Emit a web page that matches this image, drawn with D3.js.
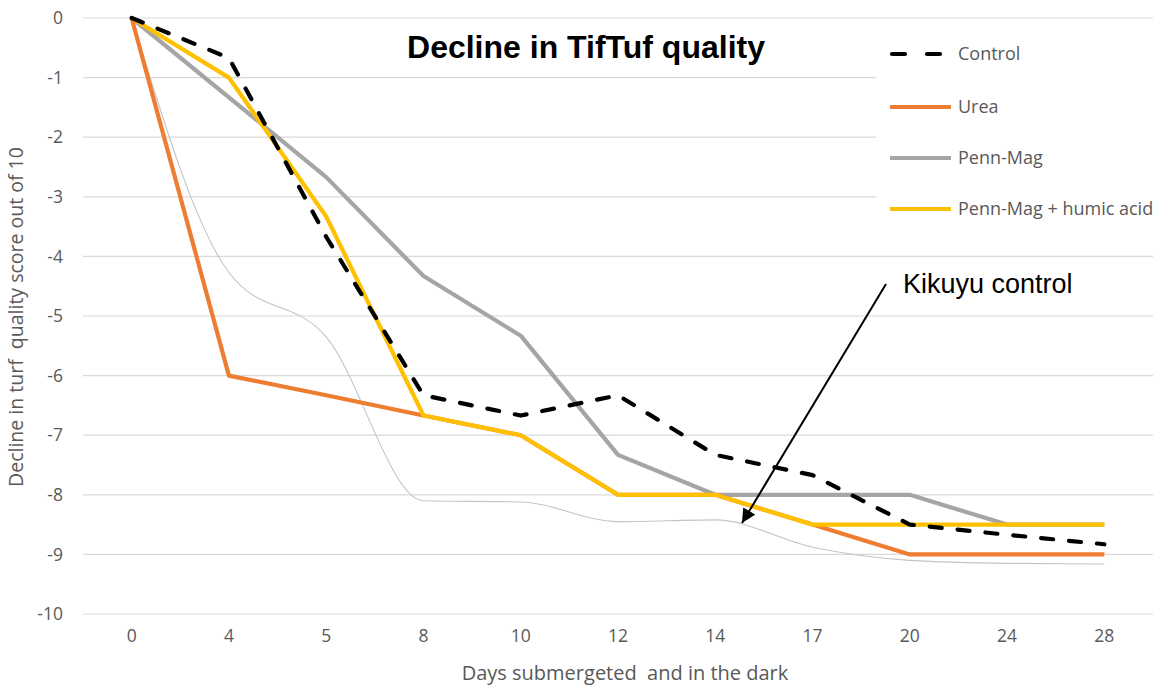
<!DOCTYPE html>
<html>
<head>
<meta charset="utf-8">
<script src="https://cdn.jsdelivr.net/npm/d3@7"></script>
<style>
  html, body { margin: 0; padding: 0; background: #fff; }
  svg { display: block; }
</style>
</head>
<body>
<svg id="chart" width="1163" height="689"></svg>
<script>
// ---- data ----
const days = ["0", "4", "5", "8", "10", "12", "14", "17", "20", "24", "28"];
const control = [0, -0.67, -3.67, -6.33, -6.67, -6.33, -7.33, -7.67, -8.5, -8.67, -8.83];
const urea = [0, -6, -6.33, -6.67, -7, -8, -8, -8.5, -9, -9, -9];
const pennMag = [0, -1.33, -2.67, -4.33, -5.33, -7.33, -8, -8, -8, -8.5, -8.5];
const pennMagHumic = [0, -1, -3.33, -6.67, -7, -8, -8, -8.5, -8.5, -8.5, -8.5];
const kikuyuControl = [0, -4.27, -5.35, -8.1, -8.12, -8.45, -8.42, -8.88, -9.1, -9.15, -9.16];
const yTicks = [0, -1, -2, -3, -4, -5, -6, -7, -8, -9, -10];
const seriesNames = ["Control", "Urea", "Penn-Mag", "Penn-Mag + humic acid"];
const titleText = "Decline in TifTuf quality";
const xTitle = "Days submergeted  and in the dark";
const yTitle = "Decline in turf  quality score out of 10";
const annotationText = "Kikuyu control";

// ---- layout ----
const svg = d3.select("#chart");
const plot = { left: 83, right: 1153, top: 18, bottom: 614 };
const x = d3.scaleBand().domain(days).range([plot.left, plot.right]);
const y = d3.scaleLinear().domain([-10, 0]).range([plot.bottom, plot.top]);
const cx = d => x(d) + x.bandwidth() / 2;
const labelFont = "'Open Sans', 'Noto Sans', sans-serif";
const labelColor = "#595959";

// gridlines
svg.append("g").selectAll("line").data(yTicks).join("line")
  .attr("x1", plot.left).attr("x2", plot.right)
  .attr("y1", d => y(d)).attr("y2", d => y(d))
  .attr("stroke", "#d9d9d9").attr("stroke-width", 1.2);

// y axis labels
const yAxis = d3.axisLeft(y).tickValues(yTicks).tickFormat(d => String(d)).tickSize(0).tickPadding(0);
const yg = svg.append("g").attr("transform", `translate(${plot.left - 20},0)`).call(yAxis);
yg.select(".domain").remove();
yg.selectAll("text").attr("font-family", labelFont).attr("font-size", 17.5)
  .attr("fill", labelColor);

// x axis labels
const xAxis = d3.axisBottom(x).tickSize(0).tickPadding(0);
const xg = svg.append("g").attr("transform", `translate(0,${plot.bottom + 16})`).call(xAxis);
xg.select(".domain").remove();
xg.selectAll("text").attr("font-family", labelFont).attr("font-size", 17.5)
  .attr("fill", labelColor);

// axis titles
svg.append("text").attr("x", 625).attr("y", 680).attr("text-anchor", "middle")
  .attr("font-family", labelFont).attr("font-size", 20).attr("fill", labelColor)
  .style("white-space", "pre").text(xTitle);
svg.append("text").attr("transform", "translate(23,317) rotate(-90)")
  .attr("text-anchor", "middle")
  .attr("font-family", labelFont).attr("font-size", 19.5).attr("fill", labelColor)
  .style("white-space", "pre").text(yTitle);

// lines
const line = d3.line().x((d, i) => cx(days[i])).y(d => y(d));
const smooth = d3.line().x((d, i) => cx(days[i])).y(d => y(d)).curve(d3.curveMonotoneX);

svg.append("path").datum(kikuyuControl).attr("d", smooth)
  .attr("fill", "none").attr("stroke", "#c4c4c4").attr("stroke-width", 1.1);

const series = [
  { name: seriesNames[2], values: pennMag, color: "#A5A5A5", dash: null },
  { name: seriesNames[1], values: urea, color: "#ED7D31", dash: null },
  { name: seriesNames[3], values: pennMagHumic, color: "#FFC000", dash: null },
  { name: seriesNames[0], values: control, color: "#000000", dash: "12,16" }
];
series.forEach(s => {
  const p = svg.append("path").datum(s.values).attr("d", line)
    .attr("fill", "none").attr("stroke", s.color).attr("stroke-width", 4.2)
    .attr("stroke-linejoin", "round");
  if (s.dash) p.attr("stroke-dasharray", s.dash).attr("stroke-linecap", "round");
});

// legend
const legend = svg.append("g");
legend.append("rect").attr("x", 876).attr("y", 26).attr("width", 284).attr("height", 210).attr("fill", "#fff");
const legendItems = [
  { name: seriesNames[0], color: "#000000", dash: "13,22", y: 54 },
  { name: seriesNames[1], color: "#ED7D31", dash: null, y: 107 },
  { name: seriesNames[2], color: "#A5A5A5", dash: null, y: 158 },
  { name: seriesNames[3], color: "#FFC000", dash: null, y: 209 }
];
const li = legend.selectAll("g.item").data(legendItems).join("g").attr("class", "item");
li.append("line").attr("x1", d => d.dash ? 892 : 890).attr("x2", 951)
  .attr("y1", d => d.y).attr("y2", d => d.y)
  .attr("stroke", d => d.color).attr("stroke-width", 4.2)
  .attr("stroke-dasharray", d => d.dash)
  .attr("stroke-linecap", d => d.dash ? "round" : "butt");
li.append("text").attr("x", 958).attr("y", d => d.y).attr("dy", "0.35em")
  .attr("font-family", labelFont).attr("font-size", 18).attr("fill", labelColor)
  .text(d => d.name);

// title
svg.append("text").attr("x", 586).attr("y", 58).attr("text-anchor", "middle")
  .attr("font-family", "'Liberation Sans', Arial, sans-serif").attr("font-weight", "bold")
  .attr("font-size", 32).attr("fill", "#000").text(titleText);

// annotation
svg.append("defs").append("marker").attr("id", "arrow")
  .attr("viewBox", "0 0 10 10").attr("refX", 10).attr("refY", 5)
  .attr("markerWidth", 8).attr("markerHeight", 7).attr("orient", "auto")
  .attr("markerUnits", "strokeWidth")
  .append("path").attr("d", "M0,0 L10,5 L0,10 z").attr("fill", "#000");
svg.append("line").attr("x1", 886).attr("y1", 284).attr("x2", 742).attr("y2", 523)
  .attr("stroke", "#000").attr("stroke-width", 2).attr("marker-end", "url(#arrow)");
svg.append("text").attr("x", 903).attr("y", 293)
  .attr("font-family", "'Liberation Sans', Arial, sans-serif")
  .attr("font-size", 27).attr("fill", "#000").text(annotationText);
</script>
</body>
</html>
